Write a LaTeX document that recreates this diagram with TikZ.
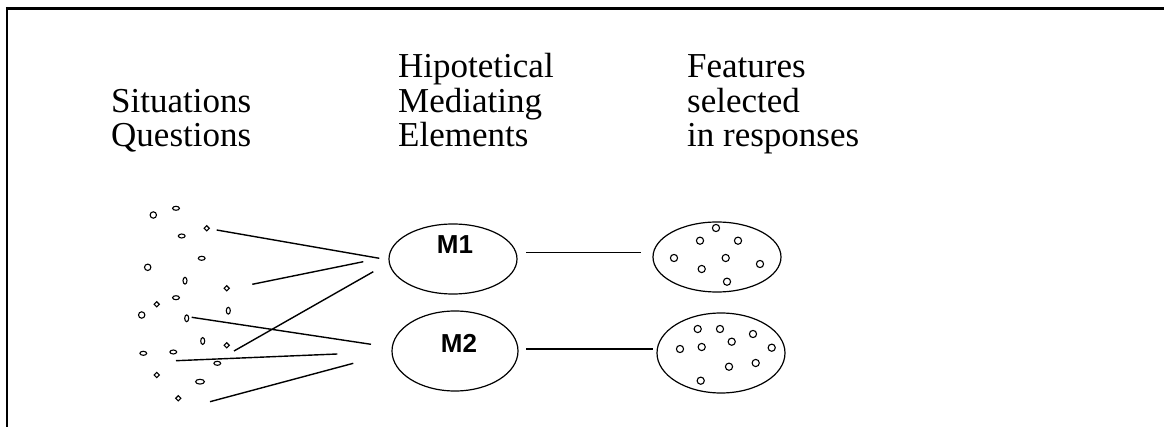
\documentclass[tikz,border=0pt]{standalone}
\usepackage{fontspec}
\setmainfont{Liberation Serif}
\newfontfamily\labfont{Liberation Sans}
\usetikzlibrary{shapes.geometric}
\tikzset{
  head/.style={font=\fontsize{35}{34.5}\selectfont, align=left, anchor=base west, inner sep=0pt},
  oval/.style={draw, ellipse, line width=1.2pt, inner sep=0pt},
  mlab/.style={font=\labfont\bfseries\fontsize{26}{26}\selectfont, inner sep=0pt},
  link/.style={line width=1.4pt},
  dot/.style={line width=1.1pt},
}
\begin{document}
\begin{tikzpicture}[x=1pt,y=-1pt]
\useasboundingbox (0,0) rectangle (1164,427);
% border
\draw[line width=3.4pt] (5.8,8.3) -- (1164,8.3);
\draw[line width=2.6pt] (7,7) -- (7,427);
% headings (node base = baseline of last line)
\node[head] (h1) at (111,147) {Situations\\Questions};
\node[head] (h2) at (398,147) {Hipotetical\\Mediating\\Elements};
\node[head] (h3) at (687,147) {Features\\selected\\in responses};
% mediating ellipses
\node[oval, minimum width=128pt, minimum height=70pt] (m1) at (453,259) {};
\node[oval, minimum width=126pt, minimum height=80pt] (m2) at (455,351) {};
\node[mlab] (m1l) at (455,245) {M1};
\node[mlab] (m2l) at (459,343) {M2};
% feature ellipses
\node[oval, minimum width=128pt, minimum height=70pt] (f1) at (717,257) {};
\node[oval, minimum width=128pt, minimum height=80pt] (f2) at (721,353) {};
% connectors M -> F
\coordinate (a1) at (526,252.7);
\coordinate (b1) at (641,252.7);
\coordinate (a2) at (526,349);
\coordinate (b2) at (653,349);
\draw[link] (a1) -- (b1);
\draw[link] (a2) -- (b2);
% circles inside F ellipses
\foreach \p in {(716,228),(700,240.7),(738,240.7),(674,258),(725.7,258),(760,264),(701.7,269),(727,281.7)}
  \draw[dot] \p circle (3.6);
\foreach \p in {(697.7,329),(720,329),(753,334),(731.7,341.7),(680,349),(701.7,347),(771.7,347.7),(755.7,363),(729,366.7),(700.7,380.7)}
  \draw[dot] \p circle (3.6);
% left scattered elements
\foreach \p in {(153.3,215),(147.7,267.3),(141.7,315)}
  \draw[dot] \p circle (3.2);
\foreach \p in {(176,208.3),(181.7,236),(201.7,258.3),(176,297.7),(143.3,353.3),(173.3,352),(217.3,363.3)}
  \draw[dot] \p ellipse (3.4 and 2);
\draw[dot] (200,381.7) ellipse (4.4 and 2.4);
\foreach \p in {(185,280.7),(228.3,310.7),(186.7,318.3),(202.7,341)}
  \draw[dot] \p ellipse (2 and 3.4);
\foreach \p in {(206.7,228.3),(226.7,288.3),(156.7,304.3),(226.7,345.3),(156.7,375),(178.3,398.3)}
  \draw[dot] \p +(-2.6,0) -- +(0,-2.6) -- +(2.6,0) -- +(0,2.6) -- cycle;
% lines from situations toward mediating elements
\coordinate (s1) at (216.7,230);   \coordinate (t1) at (379.3,258.3);
\coordinate (s2) at (252.3,284.3); \coordinate (t2) at (363.3,261.7);
\coordinate (s3) at (234,351);     \coordinate (t3) at (373.3,271.7);
\coordinate (s4) at (191.7,317.3); \coordinate (t4) at (371,344.3);
\coordinate (s5) at (176,360.7);   \coordinate (t5) at (337.3,354);
\coordinate (s6) at (210,401.7);   \coordinate (t6) at (353.3,363.3);
\foreach \i in {1,...,6}
  \draw[link] (s\i) -- (t\i);
\end{tikzpicture}
\end{document}
